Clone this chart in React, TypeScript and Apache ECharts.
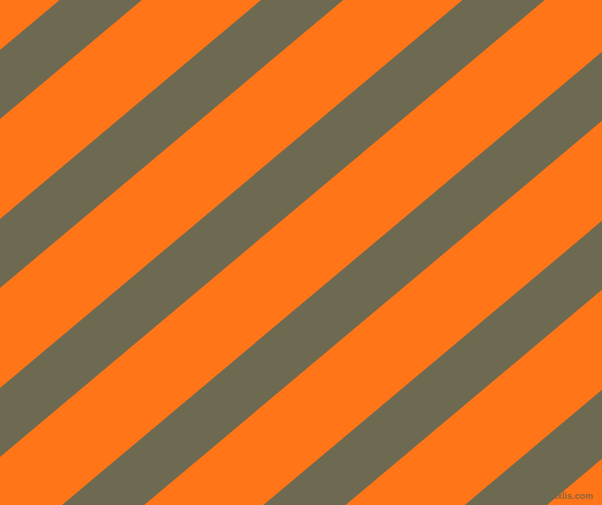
import React, { useEffect, useRef } from "react";
import * as echarts from "echarts";

// Diagonal stripe pattern: each gray stripe is given by the y-intercepts (at x = 0)
// of its upper and lower edges; edges slope up to the right at 40 degrees.
const stripeUpper = [50, 219, 388, 557, 726, 895];
const stripeLower = [119, 288, 457, 626, 795, 964];
const angleDeg = 40;
const watermark = "pixlis.com";

const W = 602;
const H = 505;
const ORANGE = "#FF7518";
const GRAY = "#6E6A51";

export default function App() {
  const ref = useRef<HTMLDivElement>(null);
  useEffect(() => {
    document.body.style.margin = "0";
    const chart = echarts.init(ref.current!, null, { renderer: "svg" });
    const t = Math.tan((angleDeg * Math.PI) / 180);
    const data = stripeUpper.map((u, i) => [u, stripeLower[i]]);
    chart.setOption({
      animation: false,
      backgroundColor: ORANGE,
      grid: { left: 0, right: 0, top: 0, bottom: 0 },
      xAxis: { type: "value", min: 0, max: W, show: false },
      yAxis: { type: "value", min: 0, max: H, inverse: true, show: false },
      series: [
        {
          type: "custom",
          clip: true,
          data,
          renderItem: (params: any, api: any) => {
            const a = api.value(0);
            const b = api.value(1);
            const pts = [
              api.coord([0, a]),
              api.coord([W, a - W * t]),
              api.coord([W, b - W * t]),
              api.coord([0, b]),
            ];
            return {
              type: "polygon",
              shape: { points: pts },
              style: { fill: GRAY },
            };
          },
        },
      ],
      graphic: [
        {
          type: "text",
          right: 9,
          bottom: 5,
          style: {
            text: watermark,
            fill: "rgba(100,96,72,0.75)",
            font: "bold 9px 'Liberation Sans', Arial, sans-serif",
          },
        },
      ],
    });
    return () => chart.dispose();
  }, []);
  return (
    <div
      ref={ref}
      style={{ position: "fixed", left: 0, top: 0, width: W, height: H }}
    />
  );
}
